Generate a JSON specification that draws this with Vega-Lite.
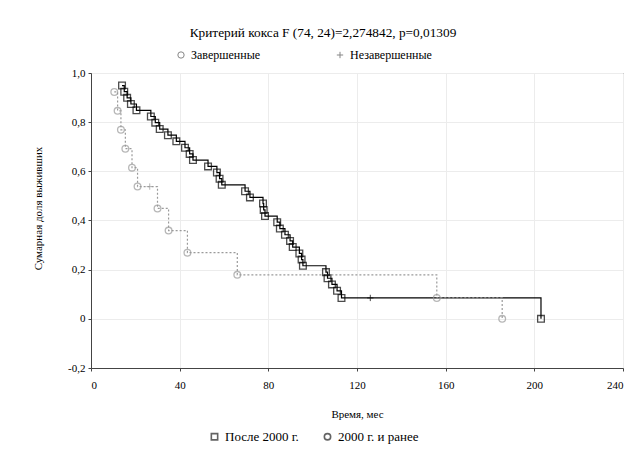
{
  "$schema": "https://vega.github.io/schema/vega-lite/v6.json",
  "width": 532,
  "height": 295,
  "autosize": {"type": "none"},
  "padding": {"left": 91, "top": 73, "right": 17, "bottom": 93},
  "background": "white",
  "title": {
    "text": "Критерий кокса F (74, 24)=2,274842, p=0,01309",
    "font": "Liberation Serif",
    "fontSize": 13.3,
    "fontWeight": "normal",
    "color": "#000",
    "anchor": "middle",
    "offset": 10,
    "dx": -34
  },
  "config": {
    "view": {"stroke": "#444", "strokeWidth": 1},
    "axis": {
      "labelFont": "Liberation Serif",
      "titleFont": "Liberation Serif",
      "labelFontSize": 11,
      "titleFontSize": 11,
      "titleFontWeight": "normal",
      "labelColor": "#000",
      "titleColor": "#000",
      "domainColor": "#444",
      "tickColor": "#444",
      "gridColor": "#ececec"
    },
    "legend": {
      "labelFont": "Liberation Serif",
      "labelFontSize": 12,
      "labelColor": "#000"
    }
  },
  "data": {
    "values": [
      {"g": "После 2000 г.", "t": 14.0, "s": 0.949, "k": "Завершенные"},
      {"g": "После 2000 г.", "t": 15.0, "s": 0.924, "k": "Завершенные"},
      {"g": "После 2000 г.", "t": 16.3, "s": 0.899, "k": "Завершенные"},
      {"g": "После 2000 г.", "t": 18.0, "s": 0.874, "k": "Завершенные"},
      {"g": "После 2000 г.", "t": 20.5, "s": 0.848, "k": "Завершенные"},
      {"g": "После 2000 г.", "t": 27.0, "s": 0.823, "k": "Завершенные"},
      {"g": "После 2000 г.", "t": 29.0, "s": 0.798, "k": "Завершенные"},
      {"g": "После 2000 г.", "t": 31.0, "s": 0.772, "k": "Завершенные"},
      {"g": "После 2000 г.", "t": 34.7, "s": 0.747, "k": "Завершенные"},
      {"g": "После 2000 г.", "t": 38.5, "s": 0.722, "k": "Завершенные"},
      {"g": "После 2000 г.", "t": 42.4, "s": 0.696, "k": "Завершенные"},
      {"g": "После 2000 г.", "t": 44.5, "s": 0.671, "k": "Завершенные"},
      {"g": "После 2000 г.", "t": 46.0, "s": 0.646, "k": "Завершенные"},
      {"g": "После 2000 г.", "t": 52.8, "s": 0.620, "k": "Завершенные"},
      {"g": "После 2000 г.", "t": 56.8, "s": 0.595, "k": "Завершенные"},
      {"g": "После 2000 г.", "t": 58.0, "s": 0.570, "k": "Завершенные"},
      {"g": "После 2000 г.", "t": 59.0, "s": 0.545, "k": "Завершенные"},
      {"g": "После 2000 г.", "t": 69.5, "s": 0.519, "k": "Завершенные"},
      {"g": "После 2000 г.", "t": 71.7, "s": 0.494, "k": "Завершенные"},
      {"g": "После 2000 г.", "t": 77.6, "s": 0.469, "k": "Завершенные"},
      {"g": "После 2000 г.", "t": 77.9, "s": 0.443, "k": "Завершенные"},
      {"g": "После 2000 г.", "t": 78.5, "s": 0.418, "k": "Завершенные"},
      {"g": "После 2000 г.", "t": 84.0, "s": 0.393, "k": "Завершенные"},
      {"g": "После 2000 г.", "t": 85.2, "s": 0.367, "k": "Завершенные"},
      {"g": "После 2000 г.", "t": 87.5, "s": 0.342, "k": "Завершенные"},
      {"g": "После 2000 г.", "t": 89.8, "s": 0.317, "k": "Завершенные"},
      {"g": "После 2000 г.", "t": 91.0, "s": 0.292, "k": "Завершенные"},
      {"g": "После 2000 г.", "t": 94.0, "s": 0.266, "k": "Завершенные"},
      {"g": "После 2000 г.", "t": 95.0, "s": 0.241, "k": "Завершенные"},
      {"g": "После 2000 г.", "t": 95.6, "s": 0.216, "k": "Завершенные"},
      {"g": "После 2000 г.", "t": 106.0, "s": 0.190, "k": "Завершенные"},
      {"g": "После 2000 г.", "t": 106.7, "s": 0.165, "k": "Завершенные"},
      {"g": "После 2000 г.", "t": 108.7, "s": 0.140, "k": "Завершенные"},
      {"g": "После 2000 г.", "t": 111.0, "s": 0.114, "k": "Завершенные"},
      {"g": "После 2000 г.", "t": 113.0, "s": 0.085, "k": "Завершенные"},
      {"g": "После 2000 г.", "t": 126.0, "s": 0.085, "k": "Незавершенные"},
      {"g": "После 2000 г.", "t": 203.0, "s": 0.0, "k": "Завершенные"},
      {"g": "2000 г. и ранее", "t": 10.5, "s": 0.923, "k": "Завершенные"},
      {"g": "2000 г. и ранее", "t": 12.0, "s": 0.846, "k": "Завершенные"},
      {"g": "2000 г. и ранее", "t": 13.5, "s": 0.769, "k": "Завершенные"},
      {"g": "2000 г. и ранее", "t": 15.5, "s": 0.692, "k": "Завершенные"},
      {"g": "2000 г. и ранее", "t": 18.5, "s": 0.615, "k": "Завершенные"},
      {"g": "2000 г. и ранее", "t": 21.0, "s": 0.538, "k": "Завершенные"},
      {"g": "2000 г. и ранее", "t": 26.5, "s": 0.538, "k": "Незавершенные"},
      {"g": "2000 г. и ранее", "t": 30.0, "s": 0.449, "k": "Завершенные"},
      {"g": "2000 г. и ранее", "t": 35.0, "s": 0.359, "k": "Завершенные"},
      {"g": "2000 г. и ранее", "t": 43.5, "s": 0.269, "k": "Завершенные"},
      {"g": "2000 г. и ранее", "t": 66.0, "s": 0.179, "k": "Завершенные"},
      {"g": "2000 г. и ранее", "t": 156.0, "s": 0.085, "k": "Завершенные"},
      {"g": "2000 г. и ранее", "t": 185.5, "s": 0.0, "k": "Завершенные"}
    ]
  },
  "encoding": {
    "x": {
      "field": "t",
      "type": "quantitative",
      "scale": {"domain": [0, 240], "nice": false, "zero": false},
      "axis": {
        "values": [0, 40, 80, 120, 160, 200, 240],
        "title": "Время, мес",
        "tickSize": 3,
        "labelPadding": 8,
        "titlePadding": 18,
        "grid": true
      }
    },
    "y": {
      "field": "s",
      "type": "quantitative",
      "scale": {"domain": [-0.2, 1.0], "nice": false, "zero": false},
      "axis": {
        "values": [-0.2, 0, 0.2, 0.4, 0.6, 0.8, 1.0],
        "labelExpr": "datum.value == 0 ? '0' : replace(replace(format(datum.value, '.1f'), '.', ','), '−', '-')",
        "title": "Сумарная доля выживших",
        "tickSize": 3,
        "labelPadding": 3,
        "titlePadding": 24,
        "titleY": 135,
        "grid": true
      }
    }
  },
  "layer": [
    {
      "mark": {"type": "line", "interpolate": "step-after", "strokeWidth": 1.2},
      "encoding": {
        "stroke": {
          "field": "g",
          "type": "nominal",
          "scale": {"domain": ["После 2000 г.", "2000 г. и ранее"], "range": ["#000000", "#9a9a9a"]},
          "legend": null
        },
        "strokeDash": {
          "field": "g",
          "type": "nominal",
          "scale": {"domain": ["После 2000 г.", "2000 г. и ранее"], "range": [[1, 0], [2, 2]]},
          "legend": null
        }
      }
    },
    {
      "transform": [{"filter": "datum.k == 'Завершенные'"}],
      "mark": {"type": "point", "filled": false, "strokeWidth": 1.3},
      "encoding": {
        "stroke": {
          "field": "g",
          "type": "nominal",
          "scale": {"domain": ["После 2000 г.", "2000 г. и ранее"], "range": ["#000000", "#9a9a9a"]},
          "legend": null
        },
        "shape": {
          "field": "g",
          "type": "nominal",
          "scale": {"domain": ["После 2000 г.", "2000 г. и ранее"], "range": ["square", "circle"]},
          "legend": {
            "title": null,
            "orient": "none",
            "direction": "horizontal",
            "legendX": 117,
            "legendY": 357,
            "columnPadding": 22,
            "labelFontSize": 13,
            "symbolSize": 40,
            "symbolStrokeColor": "#222",
            "symbolFillColor": "white",
            "symbolStrokeWidth": 1.6
          }
        },
        "size": {"value": 45}
      }
    },
    {
      "transform": [{"filter": "datum.k == 'Незавершенные'"}],
      "mark": {"type": "point", "filled": false, "strokeWidth": 1},
      "encoding": {
        "stroke": {
          "field": "g",
          "type": "nominal",
          "scale": {"domain": ["После 2000 г.", "2000 г. и ранее"], "range": ["#000000", "#9a9a9a"]},
          "legend": null
        },
        "shape": {
          "field": "k",
          "type": "nominal",
          "scale": {"domain": ["Завершенные", "Незавершенные"], "range": ["circle", "M-1,0L1,0M0,-1L0,1"]},
          "legend": {
            "title": null,
            "orient": "none",
            "direction": "horizontal",
            "legendX": 84,
            "legendY": -24,
            "columnPadding": 73,
            "symbolStrokeColor": "#555",
            "symbolFillColor": "white",
            "symbolStrokeWidth": 1,
            "symbolSize": 40,
            "labelFontSize": 12
          }
        },
        "size": {"value": 40}
      }
    }
  ],
  "resolve": {"scale": {"shape": "independent"}}
}
